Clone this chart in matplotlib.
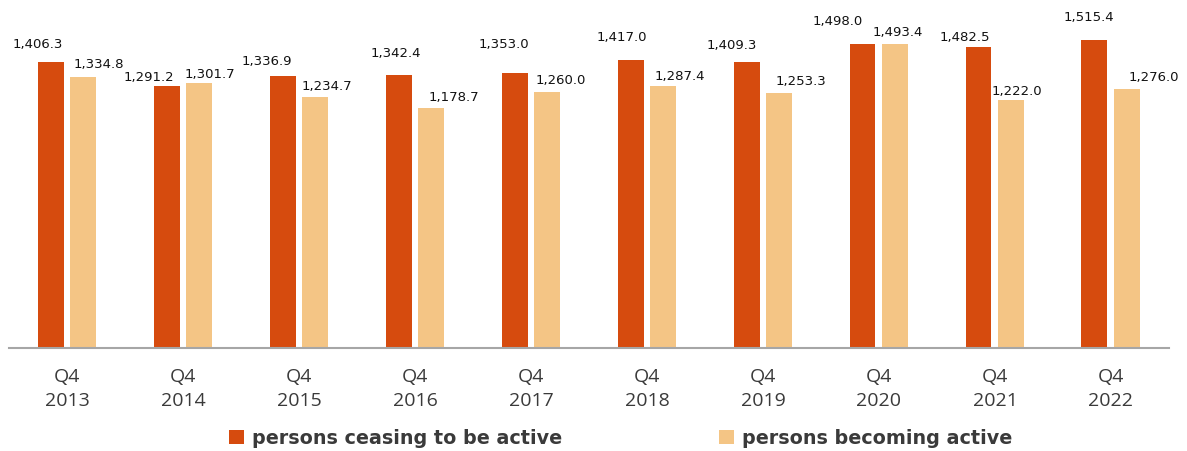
import matplotlib.pyplot as plt
import numpy as np

years = ["2013", "2014", "2015", "2016", "2017", "2018", "2019", "2020", "2021", "2022"]
ceasing = [1406.3, 1291.2, 1336.9, 1342.4, 1353.0, 1417.0, 1409.3, 1498.0, 1482.5, 1515.4]
becoming = [1334.8, 1301.7, 1234.7, 1178.7, 1260.0, 1287.4, 1253.3, 1493.4, 1222.0, 1276.0]
labels = ["Q4\n" + y for y in years]

# label nudges (pixels), Excel-style placement as in the original
dark_dx = [-13, -18, -16, -3, -11, -9, -15, -25, -14, -6]
dark_dy = [14, 5, 11, 18, 25, 19, 13, 19, 6, 19]
light_dx = [15, 10, 11, 22, 13, 16, 21, 2, 5, 26]
light_dy = [9, 5, 7, 7, 8, 6, 8, 8, 5, 8]

c_dark = "#D64B0E"
c_light = "#F4C585"

fig = plt.figure(figsize=(11.87, 4.51), dpi=100)
ax = fig.add_axes([0.0076, 0.228, 0.9772, 0.772])

x = np.arange(len(years))
w = 0.224
off = 0.142
b1 = ax.bar(x - off, ceasing, w, color=c_dark, label="persons ceasing to be active")
b2 = ax.bar(x + off, becoming, w, color=c_light, label="persons becoming active")

for i, v in enumerate(ceasing):
    ax.annotate(f"{v:,.1f}", (x[i] - off, v), xytext=(dark_dx[i], dark_dy[i]),
                textcoords="offset pixels", ha="center", va="baseline",
                fontsize=9.5, color="#111111")
for i, v in enumerate(becoming):
    ax.annotate(f"{v:,.1f}", (x[i] + off, v), xytext=(light_dx[i], light_dy[i]),
                textcoords="offset pixels", ha="center", va="baseline",
                fontsize=9.5, color="#111111")

ax.set_xlim(-0.5, len(years) - 0.5)
ax.set_ylim(0, 1712)
ax.set_xticks(x)
ax.set_xticklabels(labels, fontfamily="Open Sans", fontsize=14, color="#3A3A3A", linespacing=1.45)
ax.tick_params(axis="x", length=0, pad=14)
ax.set_yticks([])
for s in ["top", "left", "right"]:
    ax.spines[s].set_visible(False)
ax.spines["bottom"].set_color("#A6A6A6")
ax.spines["bottom"].set_linewidth(1.5)

fig.legend(handles=[b1, b2], loc="center", bbox_to_anchor=(0.5227, 0.028), ncol=2,
           frameon=False, handlelength=0.78, handleheight=0.75, handletextpad=0.42,
           columnspacing=8.2, prop={"family": "DejaVu Sans", "weight": "bold", "size": 13.8},
           labelcolor="#3A3A3A")

fig.savefig("out.png", dpi=100)
